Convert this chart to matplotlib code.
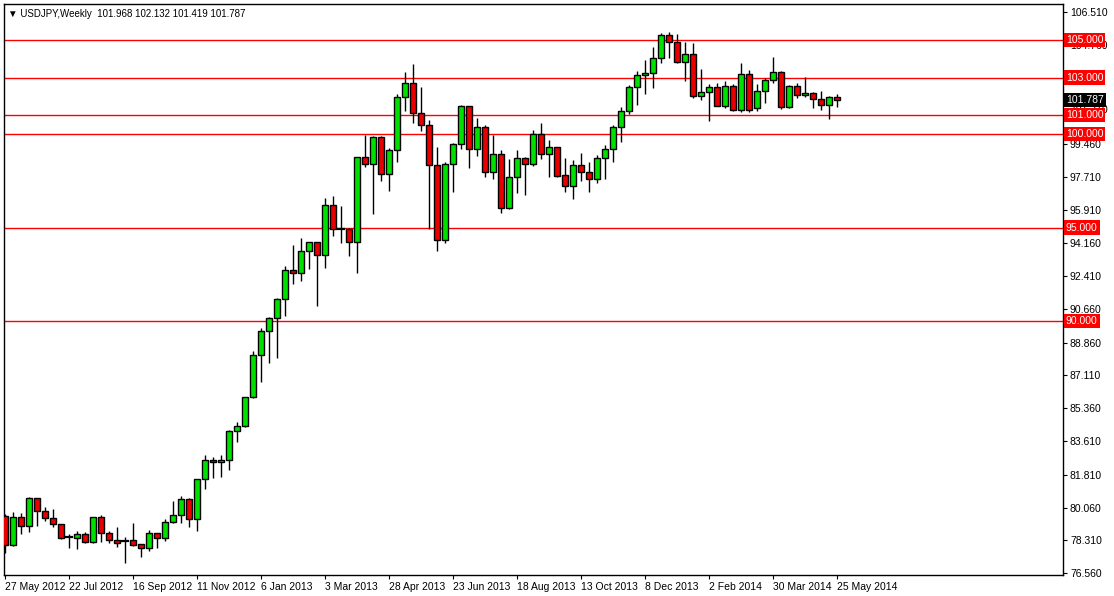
import numpy as np
import pandas as pd
import matplotlib
matplotlib.use("Agg")
import matplotlib.pyplot as plt
from matplotlib.patches import Rectangle

# --- Weekly USDJPY candles (27 May 2012 .. 25 May 2014) ---
opens = [79.61, 78.05, 79.54, 79.08, 80.56, 79.86, 79.51, 79.17, 78.50, 78.46,
         78.64, 78.25, 79.56, 78.72, 78.32, 78.30, 78.32, 78.10, 77.93, 78.69,
         78.46, 79.28, 79.67, 80.52, 79.44, 81.57, 82.60, 82.48, 82.58, 84.15,
         84.40, 85.94, 88.20, 89.46, 90.17, 91.19, 92.71, 92.55, 93.73, 94.21,
         93.52, 96.18, 94.90, 94.90, 94.24, 98.74, 98.40, 99.83, 97.84, 99.13,
         101.94, 102.69, 101.09, 100.45, 98.31, 94.32, 98.37, 99.44, 101.46, 99.17,
         100.34, 97.94, 98.90, 96.02, 97.68, 98.69, 98.37, 99.97, 98.94, 99.28,
         97.80, 97.23, 98.31, 97.94, 97.57, 98.69, 99.17, 100.34, 101.23, 102.48,
         103.13, 103.22, 104.02, 105.27, 104.88, 103.84, 104.24, 102.03, 102.21, 102.48,
         101.50, 102.53, 101.27, 103.19, 101.36, 102.28, 102.85, 103.28, 101.41, 102.55,
         102.05, 102.16, 101.84, 101.52, 101.968]
closes = [78.05, 79.54, 79.08, 80.56, 79.86, 79.51, 79.17, 78.46, 78.49, 78.64,
          78.25, 79.56, 78.72, 78.32, 78.19, 78.28, 78.09, 77.93, 78.69, 78.46,
          79.28, 79.67, 80.52, 79.44, 81.57, 82.60, 82.48, 82.60, 84.15, 84.40,
          85.94, 88.20, 89.46, 90.17, 91.19, 92.71, 92.55, 93.73, 94.21, 93.52,
          96.18, 94.90, 94.87, 94.24, 98.74, 98.40, 99.83, 97.84, 99.13, 101.94,
          102.69, 101.09, 100.45, 98.31, 94.32, 98.37, 99.44, 101.46, 99.17, 100.34,
          97.94, 98.90, 96.02, 97.68, 98.69, 98.37, 99.97, 98.94, 99.28, 97.75,
          97.23, 98.31, 97.94, 97.57, 98.69, 99.17, 100.34, 101.23, 102.48, 103.13,
          103.22, 104.02, 105.27, 104.88, 103.84, 104.24, 102.03, 102.21, 102.48, 101.50,
          102.53, 101.27, 103.19, 101.27, 102.28, 102.85, 103.28, 101.41, 102.55, 102.05,
          102.16, 101.84, 101.52, 101.94, 101.787]
highs = [79.70, 79.81, 79.76, 80.61, 80.60, 80.11, 79.99, 79.20, 78.67, 78.82,
         78.78, 79.58, 79.67, 78.83, 79.03, 78.50, 79.22, 78.14, 78.87, 78.72,
         79.44, 80.43, 80.68, 80.56, 81.60, 82.85, 82.78, 82.85, 84.20, 84.63,
         85.98, 88.41, 89.62, 90.21, 91.22, 92.95, 94.07, 94.42, 94.24, 94.24,
         96.59, 96.68, 96.15, 94.96, 98.78, 99.93, 99.88, 99.88, 99.22, 102.12,
         103.29, 103.72, 102.51, 100.73, 99.31, 98.51, 99.52, 101.53, 101.46, 100.82,
         100.47, 99.93, 99.13, 98.65, 99.13, 98.78, 100.20, 100.59, 99.67, 99.30,
         98.72, 98.60, 98.95, 98.47, 98.87, 99.40, 100.47, 101.44, 102.60, 103.36,
         103.93, 104.61, 105.36, 105.41, 105.32, 104.88, 104.82, 103.44, 102.65, 102.69,
         102.81, 102.65, 103.79, 103.40, 102.65, 102.96, 104.11, 103.37, 102.60, 102.72,
         103.04, 102.25, 102.30, 102.01, 102.132]
lows = [77.66, 78.00, 78.64, 78.78, 79.10, 79.33, 79.04, 78.41, 77.93, 77.87,
        78.16, 78.16, 78.23, 78.19, 77.98, 77.13, 78.01, 77.45, 77.76, 77.93,
        78.30, 79.22, 79.26, 79.04, 78.80, 81.07, 81.66, 81.71, 82.07, 83.58,
        84.35, 85.90, 86.78, 87.76, 88.06, 90.30, 91.97, 92.16, 92.77, 90.81,
        92.86, 94.56, 94.16, 93.50, 92.56, 98.24, 95.74, 97.50, 96.96, 98.51,
        101.23, 100.59, 100.16, 94.94, 93.76, 94.19, 96.91, 99.17, 98.19, 98.83,
        97.71, 97.57, 95.79, 95.97, 96.86, 96.73, 98.28, 98.65, 97.71, 97.71,
        96.91, 96.54, 97.50, 96.91, 97.39, 97.57, 98.51, 99.54, 101.05, 101.53,
        102.10, 102.46, 103.76, 104.02, 103.79, 102.83, 101.89, 101.80, 100.70, 101.50,
        101.39, 101.23, 101.18, 101.18, 101.23, 101.66, 102.69, 101.34, 101.36, 101.92,
        101.98, 101.39, 101.27, 100.77, 101.419]

levels = [105.0, 103.0, 101.0, 100.0, 95.0, 90.0]
last_price = 101.787
price_ticks = [106.510, 104.760, 101.310, 99.460, 97.710, 95.910, 94.160,
               92.410, 90.660, 88.860, 87.110, 85.360, 83.610, 81.810, 80.060,
               78.310, 76.560]
date_ticks = pd.date_range("2012-05-27", periods=14, freq="8W-SUN")

GREEN = "#00e000"
RED = "#e60000"
FONT = "Liberation Sans"

fig = plt.figure(figsize=(11.14, 5.96), dpi=100)
ax = fig.add_axes([4 / 1114, 21 / 596, 1059 / 1114, 571 / 596])

for i, (o, c, h, l) in enumerate(zip(opens, closes, highs, lows)):
    ax.plot([i, i], [l, h], color="black", lw=1, zorder=2, solid_capstyle="butt")
    lo, hi = min(o, c), max(o, c)
    if hi - lo < 0.06:
        ax.plot([i - 0.32, i + 0.32], [o, o], color="black", lw=1.6, zorder=3)
    else:
        ax.add_patch(Rectangle((i - 0.32, lo), 0.64, hi - lo,
                               facecolor=GREEN if c > o else RED,
                               edgecolor="black", lw=1, zorder=3))

for lv in levels:
    ax.axhline(lv, color="#ff0000", lw=1, zorder=1)

ax.set_xlim(-0.125, 132.25)
ax.set_ylim(76.47, 106.92)

ax.yaxis.tick_right()
ax.set_yticks(price_ticks)
ax.set_yticklabels([f"{p:.3f}" for p in price_ticks], fontsize=7.5, family=FONT)
ax.tick_params(axis="y", length=3, pad=2)

weeks = [(d - date_ticks[0]).days / 7 for d in date_ticks]
ax.set_xticks(weeks)
ax.set_xticklabels([f"{d.day} {d.strftime('%b %Y')}" for d in date_ticks],
                   fontsize=7.5, ha="left", family=FONT)
ax.tick_params(axis="x", length=3, pad=2)

for lv in levels:
    ax.annotate(f"{lv:.3f}", xy=(1.0, lv), xycoords=("axes fraction", "data"),
                xytext=(2, 0), textcoords="offset points", va="center", ha="left",
                fontsize=7.5, color="white", annotation_clip=False, family=FONT,
                bbox=dict(boxstyle="square,pad=0.2", fc="#ff0000", ec="none"))
ax.annotate(f"{last_price:.3f}", xy=(1.0, last_price), xycoords=("axes fraction", "data"),
            xytext=(2, 0), textcoords="offset points", va="center", ha="left",
            fontsize=7.5, color="white", annotation_clip=False, family=FONT,
            bbox=dict(boxstyle="square,pad=0.2", fc="black", ec="none"))

ax.text(0.004, 0.992, "\u25bc USDJPY,Weekly  101.968 102.132 101.419 101.787",
        transform=ax.transAxes, fontsize=7, va="top", ha="left",
        family=[FONT, "DejaVu Sans"])

for s in ax.spines.values():
    s.set_linewidth(1)

fig.savefig("out.png", dpi=100)
